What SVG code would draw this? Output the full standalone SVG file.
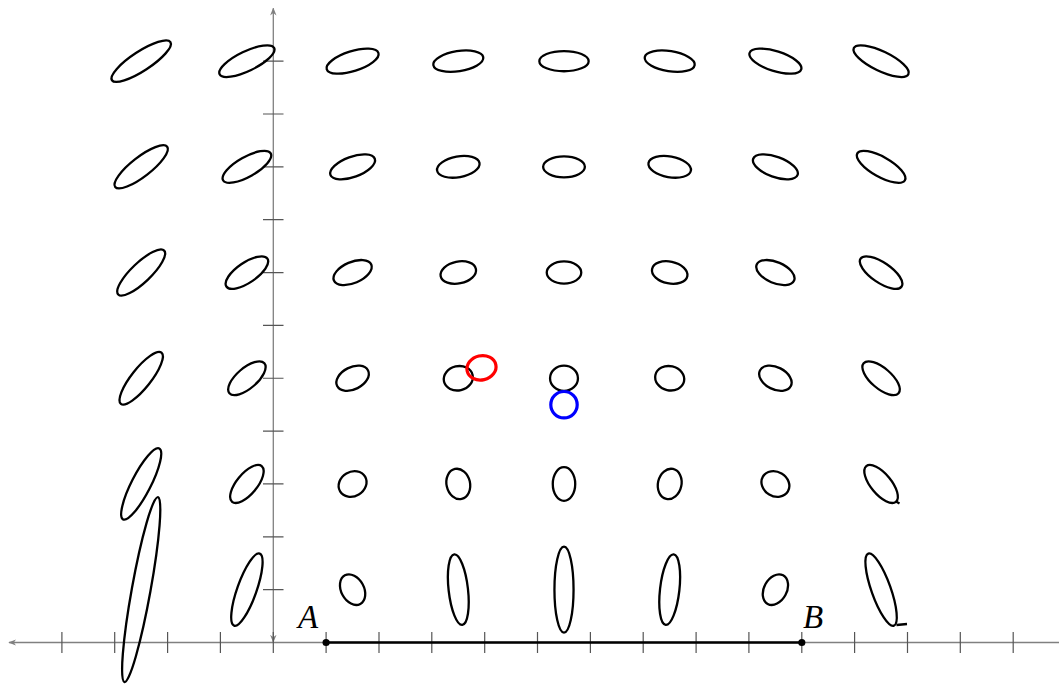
<svg xmlns="http://www.w3.org/2000/svg" width="1059" height="685" viewBox="0 0 1059 685">
<defs>
<style>
.ax{stroke:#808080;stroke-width:1.3;fill:none}
.tk{stroke:#555;stroke-width:1.2;fill:none}
.el{fill:none;stroke:#000;stroke-width:2.3}
.lbl{font-family:"Liberation Serif",serif;font-style:italic;font-size:33px;fill:#000}
</style>
<marker id="ah" viewBox="0 0 10 10" refX="9" refY="5" markerWidth="8" markerHeight="8" markerUnits="userSpaceOnUse" orient="auto-start-reverse">
<path d="M0,1 L10,5 L0,9 L3,5 Z" fill="#808080"/>
</marker>
</defs>
<rect width="1059" height="685" fill="#fff"/>
<g id="axes">
<line class="ax" x1="9" y1="642.5" x2="1066" y2="642.5" marker-start="url(#ah)" marker-end="url(#ah)"/>
<line class="ax" x1="273.3" y1="642" x2="273.3" y2="8.3" marker-start="url(#ah)" marker-end="url(#ah)"/>
<g class="tk">
<path d="M61.9,632V653M114.7,632V653M167.6,632V653M220.4,632V653M273.3,632V653M326.1,632V653M379,632V653M431.8,632V653M484.7,632V653M537.5,632V653M590.4,632V653M643.2,632V653M696.1,632V653M748.9,632V653M801.8,632V653M854.6,632V653M907.5,632V653M960.3,632V653M1013.2,632V653"/>
<path d="M263,589.65H283.5M263,536.8H283.5M263,483.95H283.5M263,431.1H283.5M263,378.25H283.5M263,325.4H283.5M263,272.55H283.5M263,219.7H283.5M263,166.85H283.5M263,114H283.5M263,61.15H283.5"/>
</g>
</g>
<g id="segment-AB">
<line x1="326.1" y1="642.5" x2="801.8" y2="642.5" stroke="#000" stroke-width="2.4"/>
<circle cx="326.1" cy="642.5" r="3.6" fill="#000"/>
<circle cx="801.8" cy="642.5" r="3.6" fill="#000"/>
<text class="lbl" x="298" y="627.5">A</text>
<text class="lbl" x="803" y="627.5">B</text>
</g>
<g id="ellipses-row1">
<ellipse class="el" cx="141.2" cy="589.65" rx="9.38" ry="94.0" transform="rotate(-169.74 141.2 589.65)"/>
<ellipse class="el" cx="246.9" cy="589.65" rx="9.62" ry="38.25" transform="rotate(-160.44 246.9 589.65)"/>
<ellipse class="el" cx="352.6" cy="589.65" rx="16.24" ry="11.40" transform="rotate(-118.36 352.6 589.65)"/>
<ellipse class="el" cx="458.3" cy="589.65" rx="35.45" ry="9.68" transform="rotate(-96.52 458.3 589.65)"/>
<ellipse class="el" cx="564" cy="589.65" rx="42.97" ry="9.56" transform="rotate(-90 564 589.65)"/>
<ellipse class="el" cx="669.7" cy="589.65" rx="35.45" ry="9.68" transform="rotate(96.52 669.7 589.65)"/>
<ellipse class="el" cx="775.4" cy="589.65" rx="16.24" ry="11.40" transform="rotate(118.36 775.4 589.65)"/>
<ellipse class="el" cx="881.1" cy="589.65" rx="9.62" ry="38.25" transform="rotate(160.44 881.1 589.65)"/>
<path class="el" d="M896.5,625 L907,624"/>
</g>
<g id="ellipses-row3">
<ellipse class="el" cx="141.2" cy="483.95" rx="9.60" ry="39.83" transform="rotate(-152.95 141.2 483.95)"/>
<ellipse class="el" cx="246.9" cy="483.95" rx="10.20" ry="23.18" transform="rotate(-140.31 246.9 483.95)"/>
<ellipse class="el" cx="352.6" cy="483.95" rx="12.19" ry="14.52" transform="rotate(-120.55 352.6 483.95)"/>
<ellipse class="el" cx="458.3" cy="483.95" rx="15.34" ry="11.76" transform="rotate(-102.71 458.3 483.95)"/>
<ellipse class="el" cx="564" cy="483.95" rx="16.83" ry="11.22" transform="rotate(-90 564 483.95)"/>
<ellipse class="el" cx="669.7" cy="483.95" rx="15.34" ry="11.76" transform="rotate(102.71 669.7 483.95)"/>
<ellipse class="el" cx="775.4" cy="483.95" rx="12.19" ry="14.52" transform="rotate(120.55 775.4 483.95)"/>
<ellipse class="el" cx="881.1" cy="483.95" rx="10.20" ry="23.18" transform="rotate(140.31 881.1 483.95)"/>
<path class="el" d="M896,501.5 L899.5,503.5"/>
</g>
<g id="ellipses-row5">
<ellipse class="el" cx="141.2" cy="378.25" rx="9.74" ry="32.67" transform="rotate(-141.60 141.2 378.25)"/>
<ellipse class="el" cx="246.9" cy="378.25" rx="10.21" ry="23.02" transform="rotate(-130.62 246.9 378.25)"/>
<ellipse class="el" cx="352.6" cy="378.25" rx="11.08" ry="17.32" transform="rotate(-116.91 352.6 378.25)"/>
<ellipse class="el" cx="458.3" cy="378.25" rx="12.10" ry="14.67" transform="rotate(-102.93 458.3 378.25)"/>
<ellipse class="el" cx="564" cy="378.25" rx="12.56" ry="13.95" transform="rotate(-90 564 378.25)"/>
<ellipse class="el" cx="669.7" cy="378.25" rx="12.10" ry="14.67" transform="rotate(102.93 669.7 378.25)"/>
<ellipse class="el" cx="775.4" cy="378.25" rx="11.08" ry="17.32" transform="rotate(116.91 775.4 378.25)"/>
<ellipse class="el" cx="881.1" cy="378.25" rx="10.21" ry="23.02" transform="rotate(130.62 881.1 378.25)"/>
</g>
<g id="ellipses-row7">
<ellipse class="el" cx="141.2" cy="272.55" rx="9.77" ry="31.75" transform="rotate(-133.66 141.2 272.55)"/>
<ellipse class="el" cx="246.9" cy="272.55" rx="10.08" ry="24.79" transform="rotate(-124.20 246.9 272.55)"/>
<ellipse class="el" cx="352.6" cy="272.55" rx="10.51" ry="20.33" transform="rotate(-113.22 352.6 272.55)"/>
<ellipse class="el" cx="458.3" cy="272.55" rx="10.92" ry="17.99" transform="rotate(-101.62 458.3 272.55)"/>
<ellipse class="el" cx="564" cy="272.55" rx="11.10" ry="17.26" transform="rotate(-90 564 272.55)"/>
<ellipse class="el" cx="669.7" cy="272.55" rx="10.92" ry="17.99" transform="rotate(101.62 669.7 272.55)"/>
<ellipse class="el" cx="775.4" cy="272.55" rx="10.51" ry="20.33" transform="rotate(113.22 775.4 272.55)"/>
<ellipse class="el" cx="881.1" cy="272.55" rx="10.08" ry="24.79" transform="rotate(124.20 881.1 272.55)"/>
</g>
<g id="ellipses-row9">
<ellipse class="el" cx="141.2" cy="166.85" rx="9.73" ry="32.87" transform="rotate(-127.75 141.2 166.85)"/>
<ellipse class="el" cx="246.9" cy="166.85" rx="9.93" ry="27.33" transform="rotate(-119.43 246.9 166.85)"/>
<ellipse class="el" cx="352.6" cy="166.85" rx="10.16" ry="23.63" transform="rotate(-110.09 352.6 166.85)"/>
<ellipse class="el" cx="458.3" cy="166.85" rx="10.36" ry="21.54" transform="rotate(-100.16 458.3 166.85)"/>
<ellipse class="el" cx="564" cy="166.85" rx="10.44" ry="20.87" transform="rotate(-90 564 166.85)"/>
<ellipse class="el" cx="669.7" cy="166.85" rx="10.36" ry="21.54" transform="rotate(100.16 669.7 166.85)"/>
<ellipse class="el" cx="775.4" cy="166.85" rx="10.16" ry="23.63" transform="rotate(110.09 775.4 166.85)"/>
<ellipse class="el" cx="881.1" cy="166.85" rx="9.93" ry="27.33" transform="rotate(119.43 881.1 166.85)"/>
</g>
<g id="ellipses-row11">
<ellipse class="el" cx="141.2" cy="61.15" rx="9.69" ry="34.93" transform="rotate(-123.15 141.2 61.15)"/>
<ellipse class="el" cx="246.9" cy="61.15" rx="9.81" ry="30.28" transform="rotate(-115.72 246.9 61.15)"/>
<ellipse class="el" cx="352.6" cy="61.15" rx="9.94" ry="27.10" transform="rotate(-107.55 352.6 61.15)"/>
<ellipse class="el" cx="458.3" cy="61.15" rx="10.04" ry="25.26" transform="rotate(-98.89 458.3 61.15)"/>
<ellipse class="el" cx="564" cy="61.15" rx="10.08" ry="24.66" transform="rotate(-90 564 61.15)"/>
<ellipse class="el" cx="669.7" cy="61.15" rx="10.04" ry="25.26" transform="rotate(98.89 669.7 61.15)"/>
<ellipse class="el" cx="775.4" cy="61.15" rx="9.94" ry="27.10" transform="rotate(107.55 775.4 61.15)"/>
<ellipse class="el" cx="881.1" cy="61.15" rx="9.81" ry="30.28" transform="rotate(115.72 881.1 61.15)"/>
</g>
<g id="red-ellipse">
<ellipse cx="481.5" cy="367.8" rx="14.67" ry="12.10" transform="rotate(-12.93 481.5 367.8)" fill="none" stroke="#ff0000" stroke-width="3.2"/>
</g>
<g id="blue-circle">
<circle cx="564" cy="404.7" r="13.2" fill="none" stroke="#0000ff" stroke-width="3.2"/>
</g>
<g id="connectors"/>
</svg>
